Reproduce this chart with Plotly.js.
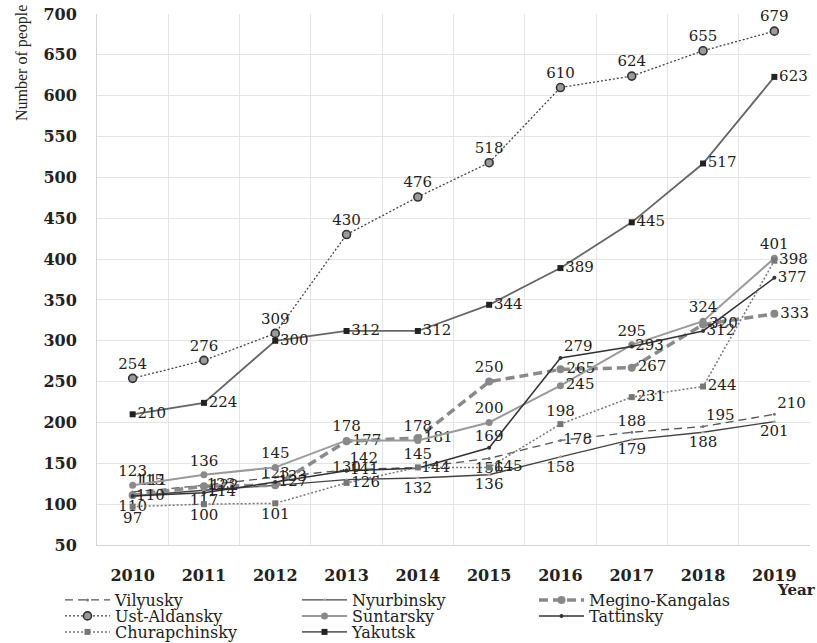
<!DOCTYPE html>
<html>
<head>
<meta charset="utf-8">
<script src="https://cdn.plot.ly/plotly-3.0.1.min.js"></script>
<style>html,body{margin:0;padding:0;background:#fff;}#chart{width:817px;height:643px;}</style>
</head>
<body>
<div id="chart"></div>
<script>
// ---- Data ----
const years = [2010, 2011, 2012, 2013, 2014, 2015, 2016, 2017, 2018, 2019];
const seriesNames = ["Vilyusky", "Nyurbinsky", "Megino-Kangalas", "Ust-Aldansky", "Suntarsky", "Tattinsky", "Churapchinsky", "Yakutsk"];
const vilyusky      = [115, 123, 133, 142, 145, 156, 178, 188, 195, 210];
const nyurbinsky    = [110, 117, 123, 130, 132, 136, 158, 179, 188, 201];
const meginoKangalas= [111, 122, 123, 177, 181, 250, 265, 267, 320, 333];
const ustAldansky   = [254, 276, 309, 430, 476, 518, 610, 624, 655, 679];
const suntarsky     = [123, 136, 145, 178, 178, 200, 245, 295, 324, 401];
const tattinsky     = [110, 114, 127, 141, 144, 169, 279, 293, 312, 377];
const churapchinsky = [97, 100, 101, 126, 145, 145, 198, 231, 244, 398];
const yakutsk       = [210, 224, 300, 312, 312, 344, 389, 445, 517, 623];
const xTitle = "Year";
const yTitle = "Number of people";

// ---- Styles ----
const labelFont = {family: "DejaVu Serif", size: 15, color: "#222"};
const TC = 'top center', BC = 'bottom center', MR = 'middle right', TR = 'top right';
const all = (p) => years.map(() => p);
const show = (hideIdx) => years.map((_, i) => hideIdx.includes(i) ? '' : '%{y}');

function mk(name, y, line, marker, pos, legendId, hideIdx) {
  return {
    type: 'scatter', mode: 'lines+markers+text', name: name,
    x: years, y: y,
    texttemplate: show(hideIdx || []),
    textposition: pos, textfont: labelFont, cliponaxis: false,
    line: line, marker: marker, legend: legendId, hoverinfo: 'x+y+name'
  };
}

const traces = [
  mk(seriesNames[0], vilyusky, {color: '#555', width: 1.3, dash: '8px,5px'},
     {symbol: 'circle', size: 3, color: '#777'},
     [TR, MR, MR, TR, TC, BC, MR, TC, TR, TR], 'legend', [4]),
  mk(seriesNames[1], nyurbinsky, {color: '#444', width: 1.3},
     {symbol: 'triangle-up', size: 4, color: '#aaa'},
     [BC, BC, TC, TC, BC, BC, BC, BC, BC, BC], 'legend2'),
  mk(seriesNames[2], meginoKangalas, {color: '#8a8a8a', width: 3.5, dash: '9px,5px'},
     {symbol: 'circle', size: 8, color: '#888'},
     [TR, MR, TC, MR, MR, TC, MR, MR, MR, MR], 'legend3', [2]),
  mk(seriesNames[3], ustAldansky, {color: '#444', width: 1.3, dash: '2px,2px'},
     {symbol: 'circle', size: 8, color: '#9a9a9a', line: {color: '#333', width: 1.6}},
     all(TC), 'legend4'),
  mk(seriesNames[4], suntarsky, {color: '#9a9a9a', width: 2},
     {symbol: 'circle', size: 7, color: '#8a8a8a'},
     [TC, TC, TC, TC, TC, TC, MR, TC, TC, TC], 'legend5'),
  mk(seriesNames[5], tattinsky, {color: '#333', width: 1.5},
     {symbol: 'circle', size: 4, color: '#333'},
     [MR, MR, MR, MR, MR, TC, TR, MR, MR, MR], 'legend6'),
  mk(seriesNames[6], churapchinsky, {color: '#777', width: 1.5, dash: '2px,2px'},
     {symbol: 'square', size: 6, color: '#777'},
     [BC, BC, BC, MR, TC, MR, TC, MR, MR, MR], 'legend7'),
  mk(seriesNames[7], yakutsk, {color: '#666', width: 1.8},
     {symbol: 'square', size: 6, color: '#222'},
     all(MR), 'legend8')
];

// legend placement (px -> paper)
const L = 97, R = 7, T = 14, B = 98, W = 817, H = 643;
const pw = W - L - R, ph = H - T - B;
const px = (v) => (v - L) / pw;
const py = (v) => (H - B - v) / ph;
const legFont = {family: "DejaVu Serif", size: 16, color: '#222'};
function leg(xpx, ypx) {
  return {x: px(xpx), y: py(ypx), xanchor: 'left', yanchor: 'middle', orientation: 'v',
          font: legFont, bgcolor: 'rgba(0,0,0,0)', borderwidth: 0, itemwidth: 45, itemclick: false};
}
const colX = [60, 297, 534];
const rowY = [600, 616, 632];

const layout = {
  width: W, height: H,
  margin: {l: L, r: R, t: T, b: B, autoexpand: false},
  paper_bgcolor: '#fff', plot_bgcolor: '#fff',
  showlegend: true,
  legend:  leg(colX[0], rowY[0]),
  legend2: leg(colX[1], rowY[0]),
  legend3: leg(colX[2], rowY[0]),
  legend4: leg(colX[0], rowY[1]),
  legend5: leg(colX[1], rowY[1]),
  legend6: leg(colX[2], rowY[1]),
  legend7: leg(colX[0], rowY[2]),
  legend8: leg(colX[1], rowY[2]),
  xaxis: {
    type: 'linear', range: [2009.5, 2019.5],
    tickmode: 'linear', tick0: 2010, dtick: 1,
    showgrid: false, zeroline: false,
    showline: true, linecolor: '#d4d4d4', linewidth: 1,
    ticks: '', ticklabelstandoff: 16,
    tickfont: {family: 'DejaVu Serif', size: 16, color: '#222', weight: 'bold'},
    minor: {tickmode: 'linear', tick0: 2009.5, dtick: 1, showgrid: true, gridcolor: '#e4e4e4', gridwidth: 1, ticks: ''}
  },
  yaxis: {
    range: [50, 700], tickmode: 'linear', tick0: 50, dtick: 50,
    showgrid: true, gridcolor: '#e4e4e4', gridwidth: 1, zeroline: false,
    showline: true, linecolor: '#d4d4d4', linewidth: 1,
    ticks: '', ticklabelstandoff: 16,
    tickfont: {family: 'DejaVu Serif', size: 16, color: '#222', weight: 'bold'}
  },
  annotations: [
    {text: yTitle, xref: 'paper', yref: 'paper', x: px(22), y: py(63), xanchor: 'center', yanchor: 'middle',
     textangle: -90, showarrow: false, font: {family: 'Liberation Serif', size: 16, color: '#222'}},
    {text: xTitle, xref: 'paper', yref: 'paper', x: px(796), y: py(590), xanchor: 'center', yanchor: 'middle',
     showarrow: false, font: {family: 'DejaVu Serif', size: 15, color: '#222', weight: 'bold'}}
  ]
};

Plotly.newPlot('chart', traces, layout, {displayModeBar: false, staticPlot: true});
</script>
</body>
</html>
